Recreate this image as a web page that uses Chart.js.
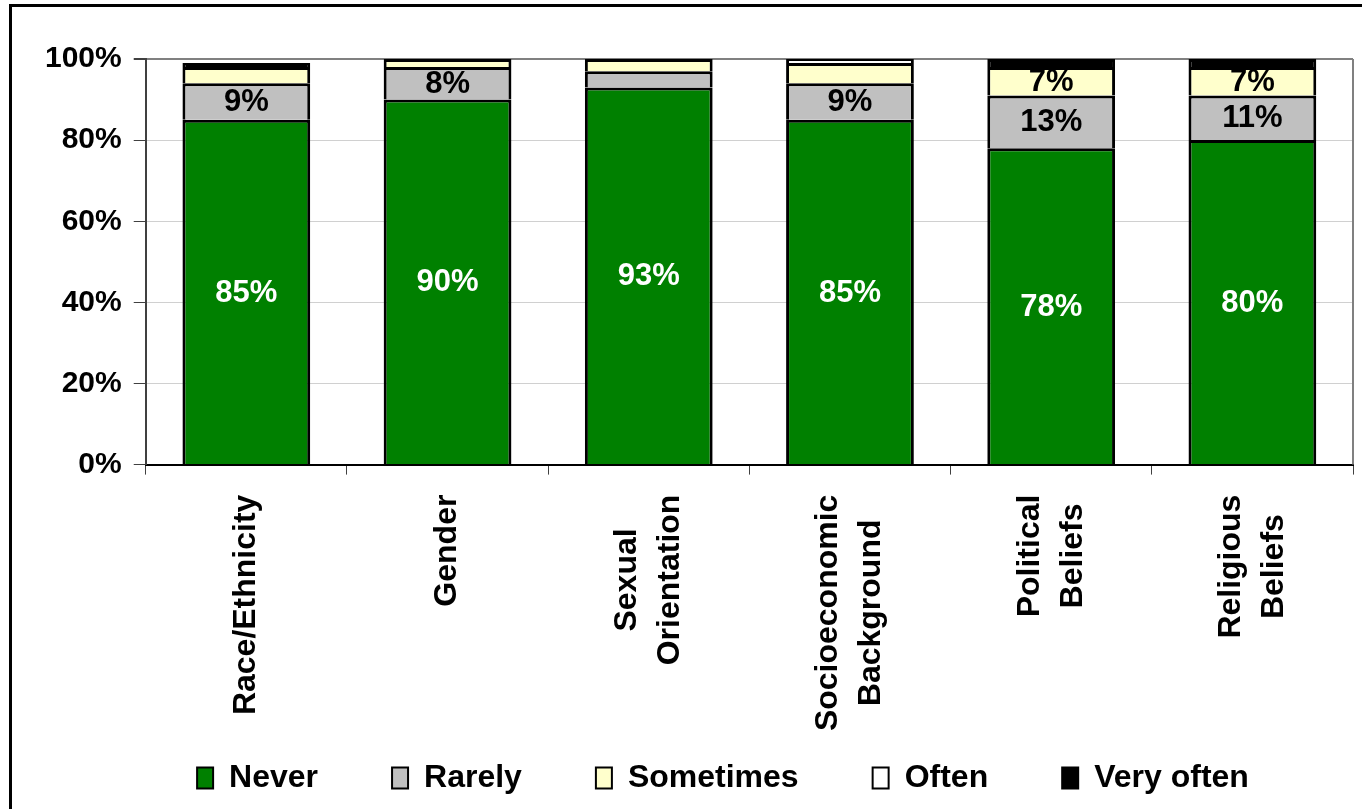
<!DOCTYPE html>
<html>
<head>
<meta charset="utf-8">
<script src="https://cdn.jsdelivr.net/npm/chart.js@4.4.1/dist/chart.umd.min.js"></script>
<style>
  html, body { margin: 0; padding: 0; background: #fff; overflow: hidden; }
  #wrap { position: relative; width: 1362px; height: 809px; }
  #frame { position: absolute; left: 9px; top: 4px; width: 1400px; height: 900px; border-left: 3px solid #000; border-top: 3px solid #000; }
  canvas { position: absolute; left: 0; top: 0; }
</style>
</head>
<body>
<div id="wrap">
  <div id="frame"></div>
  <canvas id="chart" width="1362" height="809"></canvas>
</div>
<script>
// categories (multi-line x labels)
const categories = [
    ['Race/Ethnicity'],
    ['Gender'],
    ['Sexual', 'Orientation'],
    ['Socioeconomic', 'Background'],
    ['Political', 'Beliefs'],
    ['Religious', 'Beliefs']
];

// percentages
const never     = [85, 90, 93, 85, 78, 80];
const rarely    = [9, 8, 4, 9, 13, 11];
const sometimes = [4, 2, 3, 5, 7, 7];
const often     = [0, 0, 0, 1, 0, 0];
const veryOften = [1, 0, 0, 0, 2, 2];

const yTicks = [0, 20, 40, 60, 80, 100];

const FONT = "'Liberation Sans', Arial, sans-serif";
Chart.defaults.font.family = FONT;
Chart.defaults.color = '#000';

// segment value labels (only the bigger ones are labelled in the original)
const valueLabels = {
    id: 'valueLabels',
    afterDatasetsDraw(chart) {
        const ctx = chart.ctx;
        ctx.save();
        ctx.font = 'bold 31px ' + FONT;
        ctx.textAlign = 'center';
        ctx.textBaseline = 'middle';
        chart.data.datasets.forEach((ds, di) => {
            const meta = chart.getDatasetMeta(di);
            meta.data.forEach((bar, i) => {
                const v = ds.data[i];
                if (v < 6) return;
                ctx.fillStyle = di === 0 ? '#fff' : '#000';
                ctx.fillText(v + '%', bar.x, (bar.y + bar.base) / 2 + 1);
            });
        });
        ctx.restore();
    }
};

// rotated category labels, lines centred on each other
const xLabels = {
    id: 'xLabels',
    afterDraw(chart) {
        const ctx = chart.ctx;
        const xs = chart.scales.x;
        const top = chart.chartArea.bottom + 30;
        ctx.save();
        ctx.font = 'bold 32px ' + FONT;
        ctx.fillStyle = '#000';
        ctx.textAlign = 'center';
        ctx.textBaseline = 'middle';
        categories.forEach((lines, i) => {
            const x = xs.getPixelForValue(i);
            const maxW = Math.max(...lines.map(l => ctx.measureText(l).width));
            ctx.save();
            ctx.translate(x, top);
            ctx.rotate(-Math.PI / 2);
            lines.forEach((l, k) => {
                ctx.fillText(l, -maxW / 2, (k - (lines.length - 1) / 2) * 43);
            });
            ctx.restore();
        });
        ctx.restore();
    }
};

// grey plot frame on the right side
const plotFrame = {
    id: 'plotFrame',
    beforeDatasetsDraw(chart) {
        const {ctx, chartArea} = chart;
        ctx.save();
        ctx.strokeStyle = '#808080';
        ctx.lineWidth = 2;
        ctx.beginPath();
        ctx.moveTo(chartArea.right, chartArea.top);
        ctx.lineTo(chartArea.right, chartArea.bottom);
        ctx.stroke();
        ctx.restore();
    }
};

// legend sits a bit right of the canvas centre in the original
const legendShift = {
    id: 'legendShift',
    afterLayout(chart) {
        chart.legend.left += 30;
        chart.legend.right += 30;
    }
};

const common = {
    borderColor: '#000',
    borderWidth: 3,
    barPercentage: 0.635,
    categoryPercentage: 1.0
};

const chart = new Chart(document.getElementById('chart').getContext('2d'), {
    type: 'bar',
    data: {
        labels: categories,
        datasets: [
            { label: 'Never', data: never, backgroundColor: '#008000', ...common },
            { label: 'Rarely', data: rarely, backgroundColor: '#c0c0c0', ...common },
            { label: 'Sometimes', data: sometimes, backgroundColor: '#ffffcc', ...common },
            { label: 'Often', data: often, backgroundColor: '#ffffff', ...common },
            { label: 'Very often', data: veryOften, backgroundColor: '#000000', ...common }
        ]
    },
    options: {
        responsive: false,
        animation: false,
        layout: {
            padding: { left: 33, right: 9, top: 59, bottom: 5 }
        },
        scales: {
            x: {
                stacked: true,
                ticks: { display: false },
                grid: {
                    drawOnChartArea: false,
                    drawTicks: true,
                    tickLength: 10,
                    color: '#404040'
                },
                border: { color: '#000', width: 2 },
                title: {
                    display: true,
                    text: '',
                    font: { size: 12 },
                    padding: { top: 199, bottom: 0 }
                }
            },
            y: {
                stacked: true,
                min: 0,
                max: 100,
                afterBuildTicks: (scale) => {
                    scale.ticks = yTicks.map(v => ({ value: v }));
                },
                ticks: {
                    font: { size: 30, weight: 'bold' },
                    color: '#000',
                    padding: 12,
                    callback: (v) => v + '%'
                },
                grid: {
                    color: (c) => (c.tick && c.tick.value === 100) ? '#808080' : '#d0d0d0',
                    lineWidth: (c) => (c.tick && c.tick.value === 100) ? 2 : 1,
                    tickColor: '#404040',
                    tickLength: 12
                },
                border: { color: '#404040', width: 2 }
            }
        },
        plugins: {
            legend: {
                position: 'bottom',
                labels: {
                    font: { size: 32, weight: 'bold' },
                    color: '#000',
                    boxWidth: 16,
                    boxHeight: 21,
                    padding: 74,
                    generateLabels: (chart) => {
                        const items = Chart.defaults.plugins.legend.labels.generateLabels(chart);
                        items.forEach(it => { it.lineWidth = 2; });
                        return items;
                    }
                }
            },
            tooltip: { enabled: false }
        }
    },
    plugins: [plotFrame, valueLabels, xLabels, legendShift]
});
</script>
</body>
</html>
